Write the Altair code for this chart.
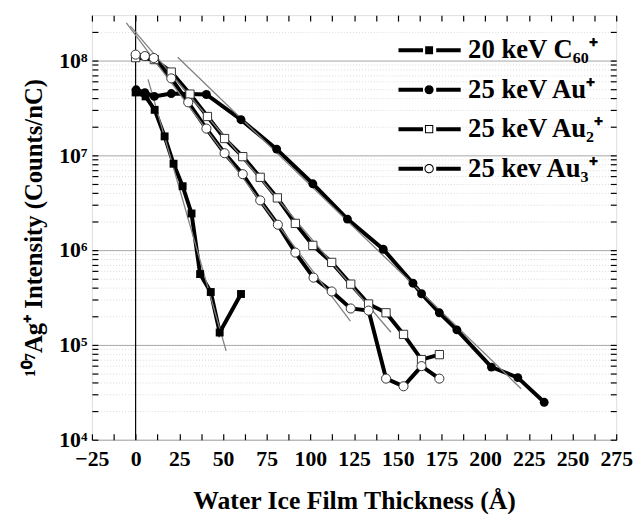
import altair as alt
import pandas as pd

FONT = "Liberation Serif"

# ---------------- data ----------------
series_keys = ["C60", "Au1", "Au2", "Au3"]
legend_labels = ["20 keV C₆₀⁺", "25 keV Au⁺", "25 keV Au₂⁺", "25 kev Au₃⁺"]

c60_x = [0, 5.7, 10.9, 16.6, 21.7, 26.9, 32.0, 36.9, 43.0, 48.1, 60.3]
c60_y = [4.59e7, 4.17e7, 3.01e7, 1.58e7, 8.13e6, 4.71e6, 2.43e6, 5.58e5, 3.61e5, 1.35e5, 3.44e5]

au1_x = [0.3, 5.3, 10.7, 20.4, 40.5, 60.3, 80.7, 101.4, 121.2, 141.7, 158.7, 163.6,
         173.8, 183.8, 203.6, 218.7, 233.8]
au1_y = [4.9e7, 4.57e7, 4.17e7, 4.47e7, 4.37e7, 2.37e7, 1.16e7, 5.0e6, 2.12e6, 1.02e6,
         4.47e5, 3.46e5, 2.18e5, 1.44e5, 5.83e4, 4.52e4, 2.48e4]

au2_x = [0, 10.7, 20.4, 31.1, 41.1, 50.9, 61.3, 71.3, 81.1, 91.4, 101.4, 112.2, 123.1,
         133.3, 143.3, 153.3, 163.6, 173.8]
au2_y = [1.07e8, 1.02e8, 7.53e7, 4.41e7, 2.56e7, 1.5e7, 9.66e6, 5.85e6, 3.55e6, 1.91e6,
         1.12e6, 7.41e5, 4.37e5, 2.7e5, 2.18e5, 1.29e5, 7.0e4, 7.89e4]

au3_x = [0, 5.3, 10.4, 20.4, 30.1, 40.5, 50.9, 61.3, 71.3, 81.4, 91.4, 101.8, 112.2,
         123.1, 133.3, 143.3, 153.3, 163.6, 173.8]
au3_y = [1.15e8, 1.11e8, 1.06e8, 6.46e7, 3.61e7, 1.91e7, 1.05e7, 6.31e6, 3.34e6, 1.85e6,
         9.4e5, 5.12e5, 3.66e5, 2.42e5, 2.3e5, 4.41e4, 3.66e4, 5.97e4, 4.41e4]

# exponential fit lines (two end points each)
fit_c60_x = [7.1, 51.8]
fit_c60_y = [6.3e7, 8.65e4]
fit_au1_x = [24.1, 220.6]
fit_au1_y = [1.08e8, 3.45e4]
fit_au2_x = [-3.0, 146.1]
fit_au2_y = [2.3e8, 1.36e5]
fit_au3_x = [-5.3, 122.9]
fit_au3_y = [2.48e8, 1.78e5]

x_ticks = [-25 + 12.5 * i for i in range(25)]
y_ticks = [k * 10 ** e for e in range(4, 8) for k in range(1, 10)] + [1e8, 2e8]
y_major = [1e4, 1e5, 1e6, 1e7, 1e8]

# ---------------- tables ----------------
rows = []
for key, xs, ys in [("C60", c60_x, c60_y), ("Au1", au1_x, au1_y),
                    ("Au2", au2_x, au2_y), ("Au3", au3_x, au3_y)]:
    for i, (xv, yv) in enumerate(zip(xs, ys)):
        rows.append({"series": key, "x": xv, "y": yv, "i": i})
pts = pd.DataFrame(rows)

frows = []
for key, xs, ys in [("C60", fit_c60_x, fit_c60_y), ("Au1", fit_au1_x, fit_au1_y),
                    ("Au2", fit_au2_x, fit_au2_y), ("Au3", fit_au3_x, fit_au3_y)]:
    for xv, yv in zip(xs, ys):
        frows.append({"series": key, "x": xv, "y": yv})
fits = pd.DataFrame(frows)

zero_df = pd.DataFrame({"x": [0]})
legend_df = pd.DataFrame({"label": legend_labels, "x": [0] * 4, "y": [1e6] * 4})

# ---------------- scales / axes ----------------
xscale = alt.Scale(domain=[-25, 275], nice=False, zero=False)
yscale = alt.Scale(type="log", domain=[1e4, 3e8], nice=False)

major_test = "indexof([10000,100000,1000000,10000000,100000000], datum.value) >= 0"
sup = {"4": "⁴", "5": "⁵", "6": "⁶", "7": "⁷", "8": "⁸"}
y_label_expr = " : ".join(
    [f"datum.value == 1e{e} ? '10{sup[str(e)]}'" for e in range(4, 9)]) + " : ''"

x_axis = alt.Axis(
    values=x_ticks,
    labelExpr="(datum.value % 25 == 0) ? format(datum.value, 'd') : ''",
    labelOverlap=False, labelFlush=False, labelBound=False,
    labelFont=FONT, labelFontSize=22, labelFontWeight="bold", labelColor="black",
    labelPadding=15,
    tickSize={"expr": "-6"}, tickColor="black", tickWidth=1.2,
    domain=False, grid=False,
    title="Water Ice Film Thickness (Å)",
    titleFont=FONT, titleFontSize=26, titleFontWeight="bold", titleColor="black",
    titlePadding=19,
)
y_axis = alt.Axis(
    values=y_ticks,
    labelExpr=y_label_expr,
    labelOverlap=False, labelFlush=False, labelBound=False,
    labelFont=FONT, labelFontSize=22, labelFontWeight="bold", labelColor="black",
    labelPadding=11,
    tickSize={"expr": "-6"}, tickColor="black", tickWidth=1.2,
    domain=False, grid=True,
    gridColor={"condition": {"test": major_test, "value": "#a6a6a6"}, "value": "#d9d9d9"},
    gridDash={"condition": {"test": major_test, "value": []}, "value": [1, 2]},
    gridWidth=1,
    title="¹⁰⁷Ag⁺ Intensity (Counts/nC)",
    titleFont=FONT, titleFontSize=25, titleFontWeight="bold", titleColor="black",
    titlePadding=12,
)
x_top = alt.Axis(orient="top", values=x_ticks, labels=False, tickSize={"expr": "-6"},
                 tickColor="black", tickWidth=1.2, domain=False, grid=False, title=None)
y_right = alt.Axis(orient="right", values=y_ticks, labels=False, tickSize={"expr": "-6"},
                   tickColor="black", tickWidth=1.2, domain=False, grid=False, title=None)

# ---------------- legend symbols (line - marker - line) ----------------
seg = "M-3.1,-0.2H-0.62V0.2H-3.1Z M0.72,-0.2H3.2V0.2H0.72Z "
sym_fsq = seg + "M-0.4,-0.4H0.4V0.4H-0.4Z"
sym_fci = seg + "M-0.46,0A0.46,0.46,0,1,1,0.46,0A0.46,0.46,0,1,1,-0.46,0Z"
sym_osq = seg + "M-0.42,-0.42H0.42V0.42H-0.42Z M-0.32,-0.32V0.32H0.32V-0.32Z"
sym_oci = seg + ("M-0.47,0A0.47,0.47,0,1,1,0.47,0A0.47,0.47,0,1,1,-0.47,0Z "
                 "M-0.37,0A0.37,0.37,0,1,0,0.37,0A0.37,0.37,0,1,0,-0.37,0Z")

# ---------------- layers ----------------
X = alt.X("x:Q", scale=xscale, axis=None)
Y = alt.Y("y:Q", scale=yscale, axis=None)

zero_rule = alt.Chart(zero_df).mark_rule(color="black", strokeWidth=1.2).encode(x=X)

data_lines = alt.Chart(pts).mark_line(color="black", strokeWidth=4).encode(
    x=alt.X("x:Q", scale=xscale, axis=x_axis),
    y=alt.Y("y:Q", scale=yscale, axis=y_axis),
    detail="series:N",
    order="i:Q",
)

fit_lines = alt.Chart(fits).mark_line(color="#808080", strokeWidth=1.3).encode(
    x=X, y=Y, detail="series:N"
)

base_pts = alt.Chart(pts)
p_c60 = base_pts.transform_filter("datum.series == 'C60'").mark_point(
    shape="square", filled=True, color="black", size=64, opacity=1).encode(x=X, y=Y)
p_au1 = base_pts.transform_filter("datum.series == 'Au1'").mark_point(
    shape="circle", filled=True, color="black", size=81, opacity=1).encode(x=X, y=Y)
p_au2 = base_pts.transform_filter("datum.series == 'Au2'").mark_point(
    shape="square", filled=True, fill="white", stroke="#333333", strokeWidth=1,
    size=70, opacity=1).encode(x=X, y=Y)
p_au3 = base_pts.transform_filter("datum.series == 'Au3'").mark_point(
    shape="circle", filled=True, fill="white", stroke="#333333", strokeWidth=1,
    size=85, opacity=1).encode(x=X, y=Y)

legend_layer = alt.Chart(legend_df).transform_filter("false").mark_point(
    filled=True, color="black", opacity=1, strokeWidth=0
).encode(
    x=alt.X("x:Q", scale=xscale, axis=x_top),
    y=alt.Y("y:Q", scale=yscale, axis=y_right),
    shape=alt.Shape(
        "label:N",
        scale=alt.Scale(domain=legend_labels, range=[sym_fsq, sym_fci, sym_osq, sym_oci]),
        legend=alt.Legend(
            title=None, orient="none", legendX=328, legendY=22,
            labelFont=FONT, labelFontSize=27, labelFontWeight="bold", labelColor="black",
            labelLimit=400, labelOffset=26, rowPadding=12, padding=0,
            symbolSize=400, symbolStrokeWidth=0, symbolFillColor="black",
            symbolOpacity=1,
        ),
    ),
)

chart = alt.layer(
    zero_rule, data_lines, fit_lines, p_c60, p_au1, p_au2, p_au3, legend_layer
).resolve_axis(x="independent", y="independent").properties(
    width=531, height=430,
    padding={"left": 85, "top": 4, "right": 17, "bottom": 72},
    autosize=alt.AutoSizeParams(type="none"),
).configure_view(stroke="black", strokeWidth=1.5).configure(background="white")

chart.save("out.html", embed_options={"renderer": "svg", "actions": False})
